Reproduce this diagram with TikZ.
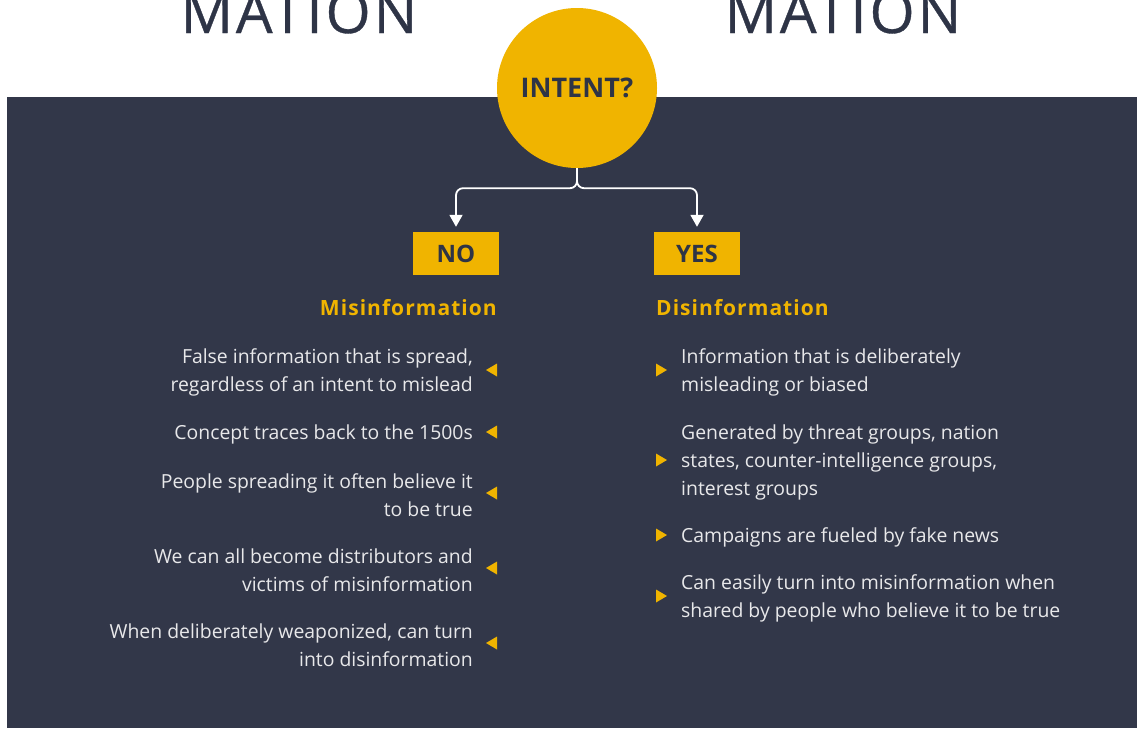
\documentclass[tikz,border=0pt]{standalone}
\usepackage{fontspec}
\setmainfont{Open Sans}
\newfontfamily\headfont[LetterSpace=5]{Open Sans}
\newfontfamily\bigfont[LetterSpace=5,FakeBold=0.6]{Open Sans}
\usetikzlibrary{arrows.meta}
\definecolor{navy}{HTML}{323749}
\definecolor{gold}{HTML}{F0B400}
\definecolor{ink}{HTML}{2E3446}
\definecolor{paper}{HTML}{E8E8EA}
\tikzset{
  bodytext/.style={text=paper, font=\fontsize{19.4}{28}\selectfont, inner sep=0pt},
  lefttext/.style={bodytext, align=right, anchor=east},
  righttext/.style={bodytext, align=left, anchor=west},
  answer/.style={fill=gold, text=ink, font=\fontsize{24}{28}\selectfont\bfseries, minimum width=86pt, minimum height=43pt, inner sep=0pt},
  heading/.style={text=gold, font=\fontsize{21}{24}\selectfont\headfont\bfseries, inner sep=0pt},
  conn/.style={draw=white, line width=1.8pt, rounded corners=7pt, -{Triangle[width=13pt,length=12pt]}},
  tri/.style={fill=gold, draw=none},
}
\begin{document}
\begin{tikzpicture}[x=1pt, y=-1pt]
\useasboundingbox (0,0) rectangle (1137,728);
\clip (0,0) rectangle (1137,728);
% page and dark panel
\fill[white] (0,0) rectangle (1137,728);
\fill[navy] (7,97) rectangle (1137,728);

% headline fragments above the panel
\node[anchor=base, text=ink, font=\fontsize{58}{62}\selectfont\bigfont, inner sep=0pt] (leftword) at (299,33) {MATION};
\node[anchor=base, text=ink, font=\fontsize{58}{62}\selectfont\bigfont, inner sep=0pt] (rightword) at (843,33) {MATION};

% decision circle
\node[circle, fill=gold, minimum size=160pt, inner sep=0pt, text=ink, font=\fontsize{27}{30}\selectfont\bfseries] (intent) at (577,88) {\raisebox{-7.5pt}{INTENT?}};

% answers
\node[answer] (no) at (456,253.5) {NO};
\node[answer] (yes) at (697,253.5) {YES};

% branch connectors
\draw[conn, shorten >=5pt] (intent.south) -- ++(0,20) -| (no.north);
\draw[conn, shorten >=5pt] (intent.south) -- ++(0,20) -| (yes.north);

% column headings
\node[heading, anchor=east] (mis) at (497,308) {Misinformation};
\node[heading, anchor=west] (dis) at (656,308) {Disinformation};

% misinformation points
\node[lefttext] (m1) at (473,372) {False information that is spread,\\regardless of an intent to mislead};
\node[lefttext] (m2) at (473,434) {Concept traces back to the 1500s};
\node[lefttext] (m3) at (473,495) {People spreading it often believe it\\to be true};
\node[lefttext] (m4) at (473,570) {We can all become distributors and\\victims of misinformation};
\node[lefttext] (m5) at (473,645) {When deliberately weaponized, can turn\\into disinformation};
\foreach \y in {370,432,493,568,643}
  \fill[tri] (486,\y) -- (497,\y-6.5) -- (497,\y+6.5) -- cycle;

% disinformation points
\node[righttext] (d1) at (681,372) {Information that is deliberately\\misleading or biased};
\node[righttext] (d2) at (681,462) {Generated by threat groups, nation\\states, counter-intelligence groups,\\interest groups};
\node[righttext] (d3) at (681,537) {Campaigns are fueled by fake news};
\node[righttext] (d4) at (681,598) {Can easily turn into misinformation when\\shared by people who believe it to be true};
\foreach \y in {370,460,535,596}
  \fill[tri] (667,\y) -- (656,\y-6.5) -- (656,\y+6.5) -- cycle;
\end{tikzpicture}
\end{document}
